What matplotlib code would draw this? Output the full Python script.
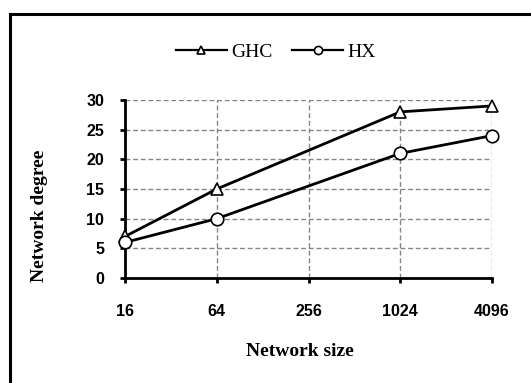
import matplotlib
matplotlib.use("Agg")
import matplotlib.pyplot as plt
from matplotlib.patches import Rectangle

network_size = [16, 64, 1024, 4096]
ghc_degree = [7, 15, 28, 29]
hx_degree = [6, 10, 21, 24]
x_ticks = [16, 64, 256, 1024, 4096]
x_tick_labels = ["16", "64", "256", "1024", "4096"]
y_ticks = [0, 5, 10, 15, 20, 25, 30]

fig = plt.figure(figsize=(5.31, 3.83), dpi=100)
ax = fig.add_axes([125/531, 1-278/383, (492-125)/531, (278-100)/383])

ax.set_xscale("log", base=2)
ax.plot(network_size, ghc_degree, color="black", lw=2, marker="^", ms=9,
        mfc="white", mec="black", mew=1.2, label="GHC", clip_on=False, zorder=3)
ax.plot(network_size, hx_degree, color="black", lw=2, marker="o", ms=9,
        mfc="white", mec="black", mew=1.2, label="HX", clip_on=False, zorder=3)

ax.set_xlim(16, 4096)
ax.set_ylim(0, 30)
ax.set_xticks(x_ticks)
ax.set_xticklabels(x_tick_labels)
ax.xaxis.set_minor_locator(matplotlib.ticker.NullLocator())
ax.set_yticks(y_ticks)

ax.grid(True, color="#858585", linestyle=(0, (3.5, 2)), linewidth=1)
ax.set_axisbelow(True)
for s in ["top", "right"]:
    ax.spines[s].set_visible(False)
for s in ["left", "bottom"]:
    ax.spines[s].set_linewidth(2)
ax.tick_params(axis="both", direction="out", length=3.6, width=2, color="black")
ax.tick_params(axis="x", pad=15)
ax.tick_params(axis="y", pad=11.5)
for lab in ax.get_xticklabels() + ax.get_yticklabels():
    lab.set_fontfamily("Liberation Sans")
    lab.set_fontweight("bold")
    lab.set_fontsize(11.5)

fig.text(300/531, 1-351/383, "Network size", family="Liberation Serif",
         fontweight="bold", fontsize=14, ha="center", va="center")
fig.text(40/531, 1-216/383, "Network degree", family="Liberation Serif",
         fontweight="bold", fontsize=14, ha="center", va="center", rotation=90)

leg = fig.legend(loc="center", bbox_to_anchor=(276/531, 1-52/383), ncol=2, frameon=False,
                 prop={"family": "Liberation Serif", "size": 14},
                 handlelength=2.6, columnspacing=1.0, handletextpad=0.25,
                 markerscale=0.65)
for ln in leg.get_lines():
    ln.set_linewidth(1.6)

fig.patches.append(Rectangle((10/531, -0.2), 1.0, 1.2 - 14/383,
                             transform=fig.transFigure, fill=False,
                             edgecolor="black", linewidth=2.2))

fig.savefig("out.png", dpi=100)
